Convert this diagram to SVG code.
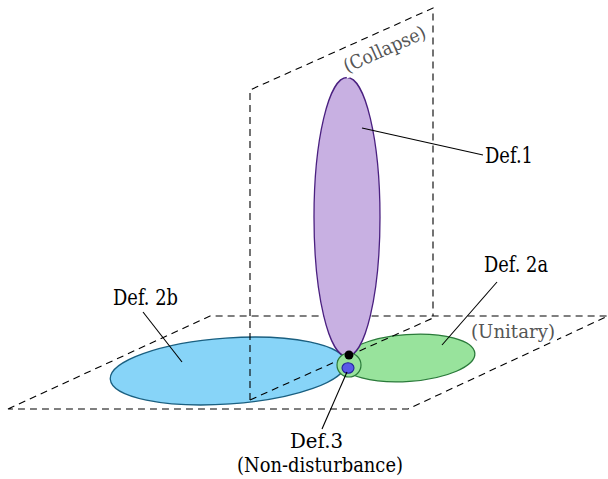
<svg xmlns="http://www.w3.org/2000/svg" width="608" height="479" viewBox="0 0 608 479">
<style>
.dash{fill:none;stroke:#000;stroke-width:1.1;stroke-dasharray:7 5}
.lead{fill:none;stroke:#000;stroke-width:1.1}
.t{font-family:"DejaVu Serif",serif}
</style>
<rect width="608" height="479" fill="#fff"/>
<g id="plane-horizontal">
<path class="dash" d="M8,409 L210,316 L608,316 L408,409 Z"/>
</g>
<g id="node-def2b">
<ellipse cx="228" cy="371" rx="118" ry="33" transform="rotate(-4 228 371)" fill="#87d4f8" stroke="#1a5f80" stroke-width="1.3"/>
</g>
<g id="node-def2a">
<ellipse cx="408" cy="358" rx="67" ry="23.5" transform="rotate(-4 408 358)" fill="#98e39c" stroke="#2a7a3a" stroke-width="1.3"/>
</g>
<g id="plane-vertical">
<path class="dash" d="M250,400 L250,90 L433,8 L433,316"/>
<path class="dash" d="M250,400 L433,318"/>
</g>
<g id="node-def1">
<ellipse cx="347" cy="217" rx="33" ry="139.5" fill="#c8b0e2" stroke="#4a2080" stroke-width="1.3"/>
</g>
<g id="node-def3">
<circle cx="349" cy="365" r="12" fill="#98e39c" stroke="#2a7a3a" stroke-width="1.2"/>
<ellipse cx="348" cy="368" rx="6" ry="5.3" fill="#5a5ae8" stroke="#22229a" stroke-width="1.1"/>
<circle cx="349" cy="355" r="4.5" fill="#000"/>
</g>
<g id="connectors">
<line class="lead" x1="362" y1="128" x2="483" y2="155"/>
<line class="lead" x1="497" y1="282" x2="442" y2="345"/>
<line class="lead" x1="143" y1="312" x2="182" y2="362"/>
<line class="lead" x1="347" y1="372" x2="322" y2="429"/>
</g>
<g id="labels" class="t" font-size="21.5" fill="#000">
<text x="485" y="163" textLength="48" lengthAdjust="spacingAndGlyphs">Def.1</text>
<text x="484" y="272" textLength="64" lengthAdjust="spacingAndGlyphs">Def. 2a</text>
<text x="113" y="305" textLength="65" lengthAdjust="spacingAndGlyphs">Def. 2b</text>
<text x="290" y="448" font-size="19.5" textLength="53" lengthAdjust="spacingAndGlyphs">Def.3</text>
<text x="237" y="472" font-size="19.5" textLength="166" lengthAdjust="spacingAndGlyphs">(Non-disturbance)</text>
<g transform="translate(347,73) rotate(-24)">
<rect x="-2" y="-17" width="92" height="22" fill="#fff"/>
<text x="0" y="0" font-size="19" fill="#555" textLength="88" lengthAdjust="spacingAndGlyphs">(Collapse)</text>
</g>
<rect x="469" y="320" width="88" height="22" fill="#fff"/>
<text x="471" y="338" font-size="19" fill="#555" textLength="84" lengthAdjust="spacingAndGlyphs">(Unitary)</text>
</g>
</svg>
